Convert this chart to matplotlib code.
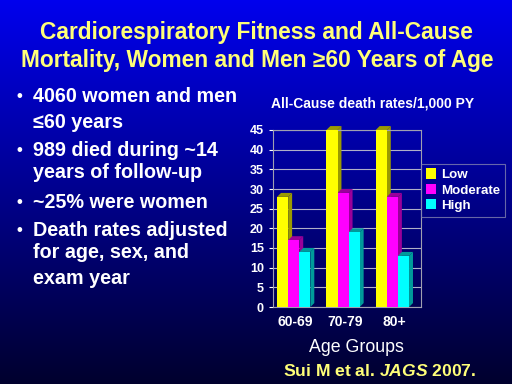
import numpy as np
import matplotlib
matplotlib.use("Agg")
from matplotlib import pyplot as plt
from matplotlib.patches import Polygon

# Data
age_groups = ["60-69", "70-79", "80+"]
fitness = ["Low", "Moderate", "High"]
low_rates = [28, 45, 45]
moderate_rates = [17, 29, 28]
high_rates = [14, 19, 13]

face_colors = ["#FFFF00", "#FF00FF", "#00FFFF"]
side_colors = ["#9A9A00", "#9A009A", "#009A9A"]

bullet_lines = [
    (True, "4060 women and men"),
    (False, "\u226460 years"),
    (True, "989 died during ~14"),
    (False, "years of follow-up"),
    (True, "~25% were women"),
    (True, "Death rates adjusted"),
    (False, "for age, sex, and"),
    (False, "exam year"),
]
line_y = [97, 122, 150, 173, 202, 230, 253, 278]

plt.rcParams['font.family'] = ['Liberation Sans', 'DejaVu Sans']
plt.rcParams['mathtext.fontset'] = 'custom'
plt.rcParams['mathtext.it'] = 'Liberation Sans:italic:bold'
plt.rcParams['mathtext.rm'] = 'Liberation Sans:bold'

fig = plt.figure(figsize=(5.12, 3.84), dpi=100)

# Background gradient
bg = fig.add_axes([0, 0, 1, 1])
grad = np.linspace(0, 1, 256).reshape(-1, 1)
top = np.array([0.0, 0.0, 0.93])
bot = np.array([0.0, 0.0, 0.18])
img = top + (bot - top) * grad[..., None]
bg.imshow(img, aspect='auto', extent=[0, 1, 0, 1])
bg.set_xlim(0, 1)
bg.set_ylim(0, 1)
bg.axis('off')

W, H = 512, 384


def px(x, y):
    return x / W, 1 - y / H


# Title
yellow = "#FFFF78"
fig.text(*px(256, 33), "Cardiorespiratory Fitness and All-Cause",
         color=yellow, fontsize=16.4, fontweight='bold', ha='center', va='center')
fig.text(*px(257, 60), "Mortality, Women and Men \u226560 Years of Age",
         color=yellow, fontsize=16.4, fontweight='bold', ha='center', va='center')

# Bullet list
for (has_bullet, txt), y in zip(bullet_lines, line_y):
    if has_bullet:
        fig.text(*px(19, y), "\u2022", color='white', fontsize=12, fontweight='bold',
                 ha='center', va='center')
    fig.text(*px(33, y), txt, color='white', fontsize=14.2, fontweight='bold',
             ha='left', va='center')

# Chart
ax = fig.add_axes([273 / W, 1 - 307 / H, 148 / W, 177 / H])
ax.patch.set_alpha(0)
ax.set_xlim(-0.5, 2.5)
ax.set_ylim(0, 45)
ax.set_yticks(range(0, 46, 5))
ax.yaxis.grid(True, color='#B0B0C8', linewidth=0.8)
ax.set_axisbelow(True)
for s in ax.spines.values():
    s.set_color('#A0A0B0')
    s.set_linewidth(0.8)

width = 0.225
dx = 0.08
dy = 1.0
x = np.arange(len(age_groups))
series = [low_rates, moderate_rates, high_rates]
for i, vals in enumerate(series):
    off = (i - 1) * width - dx
    for xi, v in zip(x, vals):
        left = xi + off - width / 2
        right = left + width
        side = Polygon([(right, 0), (right + dx, dy), (right + dx, v + dy), (right, v)],
                       closed=True, facecolor=side_colors[i], edgecolor='none',
                       zorder=2, clip_on=False)
        ax.add_patch(side)
        topf = Polygon([(left, v), (left + dx, v + dy), (right + dx, v + dy), (right, v)],
                       closed=True, facecolor=side_colors[i], edgecolor='none',
                       zorder=2, clip_on=False)
        ax.add_patch(topf)
    ax.bar(x + off, vals, width, color=face_colors[i], label=fitness[i], zorder=3,
           clip_on=False)

ax.set_xticks(x - dx / 2)
ax.set_xticklabels(age_groups)
ax.tick_params(axis='both', colors='white', labelsize=9, length=3)
ax.tick_params(axis='x', length=0, pad=6)
for lab in ax.get_xticklabels() + ax.get_yticklabels():
    lab.set_fontweight('bold')
    lab.set_color('white')
for lab in ax.get_xticklabels():
    lab.set_fontsize(10)

leg = ax.legend(loc='center left', bbox_to_anchor=(0.955, 0.66), frameon=True,
                fontsize=9.6, handlelength=0.8, handleheight=0.8, handletextpad=0.35,
                borderpad=0.35, labelspacing=0.2)
leg.get_frame().set_facecolor('none')
leg.get_frame().set_edgecolor('#8080B0')
leg.get_frame().set_linewidth(0.8)
leg.get_frame().set_boxstyle('square', pad=0)
for t in leg.get_texts():
    t.set_color('white')
    t.set_fontweight('bold')

fig.text(*px(373, 103), "All-Cause death rates/1,000 PY", color='white',
         fontsize=10, fontweight='bold', ha='center', va='center')
fig.text(*px(356, 347), "Age Groups", color='white', fontsize=12.8,
         ha='center', va='center')
fig.text(*px(380, 371), r"Sui M et al. $\mathit{JAGS}$ 2007.", color=yellow,
         fontsize=12.6, fontweight='bold', ha='center', va='center')

fig.savefig("out.png", dpi=100)
